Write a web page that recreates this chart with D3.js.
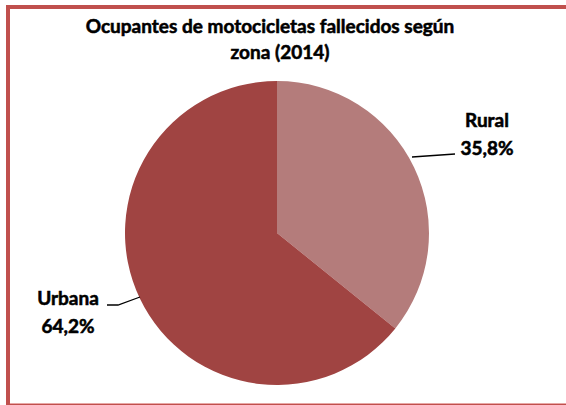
<!DOCTYPE html>
<html>
<head>
<meta charset="utf-8">
<script src="https://cdn.jsdelivr.net/npm/d3@7"></script>
<style>
  body { margin: 0; background: #fff; }
  text { font-family: Lato, "Open Sans", sans-serif; font-weight: bold; fill: #000; stroke: #000; stroke-width: 0.55px; }
</style>
</head>
<body>
<svg id="chart" width="566" height="405"></svg>
<script>
const CATEGORIES = ["Rural", "Urbana"];
const VALUES = [35.8, 64.2];
const COLORS = ["#B47C7B", "#A04442"];
const TITLE = ["Ocupantes de motocicletas fallecidos según", "zona (2014)"];

const WIDTH = 566;
const HEIGHT = 405;
const CX = 277;
const CY = 233;
const R = 152;

const svg = d3.select("#chart");

// frame (only left, top, bottom visible)
svg.append("rect")
    .attr("x", 8)
    .attr("y", 7)
    .attr("width", 600)
    .attr("height", 397)
    .attr("fill", "none")
    .attr("stroke", "#C0504D")
    .attr("stroke-width", 4);

svg.append("line")
    .attr("x1", 10).attr("x2", WIDTH)
    .attr("y1", 403.5).attr("y2", 403.5)
    .attr("stroke", "#E8A8A6")
    .attr("stroke-width", 1);
svg.append("rect")
    .attr("x", 10).attr("y", 9)
    .attr("width", WIDTH).attr("height", 394)
    .attr("fill", "#fff");

svg.selectAll(".title")
    .data(TITLE)
    .enter()
    .append("text")
    .attr("class", "title")
    .attr("x", (d, i) => i ? 280 : 270)
    .attr("y", (d, i) => 33 + i * 26)
    .attr("text-anchor", "middle")
    .style("font-size", "19px")
    .text(d => d);

const pie = d3.pie().sort(null).value(d => d)(VALUES);
const arc = d3.arc().innerRadius(0).outerRadius(R);

const g = svg.append("g").attr("transform", `translate(${CX},${CY})`);

g.selectAll(".slice")
    .data(pie)
    .enter()
    .append("path")
    .attr("class", "slice")
    .attr("d", arc)
    .attr("fill", (d, i) => COLORS[i]);

// leader lines
svg.append("polyline")
    .attr("points", "412,157 455,154")
    .attr("fill", "none")
    .attr("stroke", "#000")
    .attr("stroke-width", 1.3);
svg.append("polyline")
    .attr("points", "107,305 118,305 140,297")
    .attr("fill", "none")
    .attr("stroke", "#000")
    .attr("stroke-width", 1.3);

const labels = [
    { x: 487, y: 127 },
    { x: 68, y: 305 }
];

labels.forEach((p, i) => {
    svg.append("text")
        .attr("x", p.x).attr("y", p.y)
        .attr("text-anchor", "middle")
        .style("font-size", "19px")
        .text(CATEGORIES[i]);
    svg.append("text")
        .attr("x", p.x).attr("y", p.y + 28)
        .attr("text-anchor", "middle")
        .style("font-size", "19px")
        .text(VALUES[i].toFixed(1).replace(".", ",") + "%");
});
</script>
</body>
</html>
